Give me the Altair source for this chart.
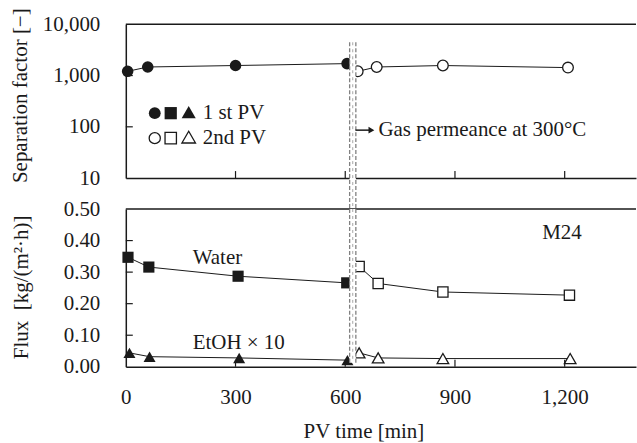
import altair as alt
import pandas as pd

# ---------------- data ----------------
# Separation factor [-]
t_sep_1 = [5, 60, 300, 605]
sep_1 = [1210, 1470, 1570, 1710]
t_sep_2 = [634, 686, 867, 1209]
sep_2 = [1210, 1470, 1570, 1430]

# Flux [kg/(m2 h)]
t_water_1 = [6, 63, 307, 604]
water_1 = [0.347, 0.316, 0.287, 0.266]
t_water_2 = [638, 690, 867, 1213]
water_2 = [0.318, 0.264, 0.237, 0.227]

t_etoh_1 = [10, 65, 310, 606]
etoh_1 = [0.044, 0.032, 0.028, 0.021]
t_etoh_2 = [638, 690, 867, 1215]
etoh_2 = [0.044, 0.028, 0.026, 0.026]

x_ticks = [0, 300, 600, 900, 1200]
sep_ticks = [10, 100, 1000, 10000]
flux_ticks = [0.0, 0.1, 0.2, 0.3, 0.4, 0.5]
band_t = [612, 629]          # interruption: gas permeance measurement

legend_labels = ["1 st PV", "2nd PV"]
annot_label = ["Gas permeance at 300°C"]
flux_labels = ["Water", "EtOH × 10", "M24"]

# ---------------- layout ----------------
W, H1, H2, GAP = 511, 154, 158, 31
FONT = "Liberation Serif"
INK = "#1a1a1a"
FS = 21

xscale = alt.Scale(domain=[0, 1395], nice=False, zero=False)
ysep = alt.Scale(type="log", domain=[10, 10000], nice=False)
yflux = alt.Scale(domain=[0, 0.5], nice=False, zero=False)

y_sep_axis = alt.Axis(values=sep_ticks, labelExpr="format(datum.value, ',')",
                      title="Separation factor [−]",
                      titleX=-99, titleY=71, titleBaseline="alphabetic",
                      labelPadding=26)
x_top_axis = alt.Axis(values=x_ticks, labels=False, title=None)
y_flux_axis = alt.Axis(values=flux_ticks, labelExpr="format(datum.value, '.2f')",
                       title="Flux\u00a0\u00a0[kg/(m²·h)]",
                       titleX=-98, titleY=78, titleBaseline="alphabetic",
                       labelPadding=26)
x_bot_axis = alt.Axis(values=x_ticks, labelExpr="format(datum.value, ',')", labelPadding=20,
                      title="PV time [min]", titleX=238, titleY=75,
                      titleBaseline="bottom", titleAlign="center")


def df(t, v, run):
    return pd.DataFrame({"t": t, "v": v, "run": run})


def one(**kw):
    return pd.DataFrame({k: [v] for k, v in kw.items()})


def XT(field="t:Q"):
    return alt.X(field, scale=xscale, axis=x_top_axis)


def XB(field="t:Q"):
    return alt.X(field, scale=xscale, axis=x_bot_axis)


def YS(field="v:Q"):
    return alt.Y(field, scale=ysep, axis=y_sep_axis)


def YF(field="v:Q"):
    return alt.Y(field, scale=yflux, axis=y_flux_axis)


def symbol(shape, filled, size, x, y):
    if filled:
        m = alt.Chart(one(a=0)).mark_point(shape=shape, filled=True, color=INK, size=size, opacity=1)
    else:
        m = alt.Chart(one(a=0)).mark_point(shape=shape, filled=True, fill="white", stroke=INK,
                                           strokeWidth=1.3, size=size, opacity=1)
    return m.encode(x=alt.value(x), y=alt.value(y))


def label(text_df, x, y, align="left"):
    return alt.Chart(text_df).mark_text(
        align=align, baseline="middle", font=FONT, fontSize=FS, color=INK
    ).encode(x=alt.value(x), y=alt.value(y), text="label:N")


# ================= top panel =================
sep_df = pd.concat([df(t_sep_1, sep_1, "1st"), df(t_sep_2, sep_2, "2nd")])

sep_line = alt.Chart(sep_df).mark_line(color=INK, strokeWidth=1).encode(
    x=XT(), y=YS(), detail="run:N")
sep_pts1 = alt.Chart(df(t_sep_1, sep_1, "1st")).mark_point(
    shape="circle", filled=True, color=INK, size=135, opacity=1
).encode(x=XT(), y=YS())
sep_pts2 = alt.Chart(df(t_sep_2, sep_2, "2nd")).mark_point(
    shape="circle", filled=True, fill="white", stroke=INK, strokeWidth=1.3, size=115, opacity=1
).encode(x=XT(), y=YS())

top_border = alt.Chart(one(a=0)).mark_rule(color=INK, strokeWidth=1.5).encode(
    x=alt.value(0), x2=alt.value(W), y=alt.value(0))
top_lticks = alt.Chart(pd.DataFrame({"v": sep_ticks[1:-1]})).mark_rule(color=INK, strokeWidth=1.2).encode(
    y=YS(), x=alt.value(0), x2=alt.value(7))
top_bticks = alt.Chart(pd.DataFrame({"t": x_ticks[1:]})).mark_rule(color=INK, strokeWidth=1.2).encode(
    x=XT(), y=alt.value(H1), y2=alt.value(H1 - 7))

band_df = pd.DataFrame({"t0": [band_t[0]], "t1": [band_t[1]]})
edge_df = pd.DataFrame({"t": band_t})
mid_df = pd.DataFrame({"t": [sum(band_t) / 2]})

top_band = alt.Chart(band_df).mark_rect(fill="white").encode(
    x=XT("t0:Q"), x2="t1:Q", y=alt.value(18), y2=alt.value(H1 + GAP))
top_band_edges = alt.Chart(edge_df).mark_rule(color="#808080", strokeWidth=1.3, strokeDash=[4, 2]).encode(
    x=XT(), y=alt.value(18), y2=alt.value(H1 + GAP))
top_band_mid = alt.Chart(mid_df).mark_rule(color="#a8a8a8", strokeWidth=1, strokeDash=[3, 4]).encode(
    x=XT(), y=alt.value(18), y2=alt.value(H1 + GAP))

legend_df = pd.DataFrame({"label": legend_labels})
leg_syms = [
    symbol("circle", True, 140, 29, 89), symbol("square", True, 150, 45, 89),
    symbol("triangle-up", True, 200, 63, 88),
    symbol("circle", False, 125, 29, 114), symbol("square", False, 130, 45, 114),
    symbol("triangle-up", False, 185, 63, 113),
]
legend1 = label(legend_df.iloc[[0]], 77, 89)
legend2 = label(legend_df.iloc[[1]], 77, 114)

arrow_shaft = alt.Chart(one(a=0)).mark_rule(color=INK, strokeWidth=1.5).encode(
    x=alt.value(230), x2=alt.value(244), y=alt.value(106))
arrow_head = alt.Chart(one(a=0)).mark_point(
    shape="triangle-right", filled=True, color=INK, size=45, opacity=1
).encode(x=alt.value(246), y=alt.value(106))
annot = label(pd.DataFrame({"label": annot_label}), 253, 106)

top = alt.layer(
    top_border, sep_line, sep_pts1, sep_pts2, top_lticks, top_bticks,
    *leg_syms, legend1, legend2, top_band, top_band_edges, top_band_mid,
    arrow_shaft, arrow_head, annot
).properties(width=W, height=H1)

# ================= bottom panel =================
flux_df = pd.concat([
    df(t_water_1, water_1, "w1"), df(t_water_2, water_2, "w2"),
    df(t_etoh_1, etoh_1, "e1"), df(t_etoh_2, etoh_2, "e2"),
])

flux_line = alt.Chart(flux_df).mark_line(color=INK, strokeWidth=1).encode(
    x=XB(), y=YF(), detail="run:N")


def pts(t, v, shape, filled, size):
    if filled:
        m = alt.Chart(df(t, v, "x")).mark_point(shape=shape, filled=True, color=INK, size=size, opacity=1)
    else:
        m = alt.Chart(df(t, v, "x")).mark_point(shape=shape, filled=True, fill="white", stroke=INK,
                                                strokeWidth=1.3, size=size, opacity=1)
    return m.encode(x=XB(), y=YF())


w1 = pts(t_water_1, water_1, "square", True, 125)
w2 = pts(t_water_2, water_2, "square", False, 105)
e1 = pts(t_etoh_1, etoh_1, "triangle-up", True, 145)
e2 = pts(t_etoh_2, etoh_2, "triangle-up", False, 135)

bot_border = alt.Chart(one(a=0)).mark_rule(color=INK, strokeWidth=1.5).encode(
    x=alt.value(0), x2=alt.value(W), y=alt.value(0))
bot_lticks = alt.Chart(pd.DataFrame({"v": flux_ticks[1:-1]})).mark_rule(color=INK, strokeWidth=1.2).encode(
    y=YF(), x=alt.value(0), x2=alt.value(7))
bot_bticks = alt.Chart(pd.DataFrame({"t": x_ticks[1:]})).mark_rule(color=INK, strokeWidth=1.2).encode(
    x=XB(), y=alt.value(H2), y2=alt.value(H2 - 7))

bot_band = alt.Chart(band_df).mark_rect(fill="white").encode(
    x=XB("t0:Q"), x2="t1:Q", y=alt.value(0), y2=alt.value(154))
bot_band_edges = alt.Chart(edge_df).mark_rule(color="#808080", strokeWidth=1.3, strokeDash=[4, 2]).encode(
    x=XB(), y=alt.value(0), y2=alt.value(154))
bot_band_mid = alt.Chart(mid_df).mark_rule(color="#a8a8a8", strokeWidth=1, strokeDash=[3, 4]).encode(
    x=XB(), y=alt.value(0), y2=alt.value(154))

lab_df = pd.DataFrame({"label": flux_labels})
lab_water = label(lab_df.iloc[[0]], 67, 49)
lab_etoh = label(lab_df.iloc[[1]], 67, 134)
lab_m24 = label(lab_df.iloc[[2]], 417, 24)

bottom = alt.layer(
    bot_border, flux_line, w1, w2, e1, e2, bot_lticks, bot_bticks,
    bot_band, bot_band_edges, bot_band_mid, lab_water, lab_etoh, lab_m24
).properties(width=W, height=H2)

chart = alt.vconcat(top, bottom, spacing=GAP, bounds="flush").properties(
    padding={"left": 9, "top": 7, "right": 0, "bottom": 0}
).configure_axis(
    labelFont=FONT, labelFontSize=FS, labelColor=INK,
    titleFont=FONT, titleFontSize=FS, titleFontWeight="normal", titleColor=INK,
    grid=False, ticks=False, tickSize=0, domainColor=INK, domainWidth=1.5,
    labelFlush=False, labelOverlap=False, labelBound=False,
).configure_view(stroke=None)

chart.save("out.html", embed_options={"renderer": "svg", "actions": False})
